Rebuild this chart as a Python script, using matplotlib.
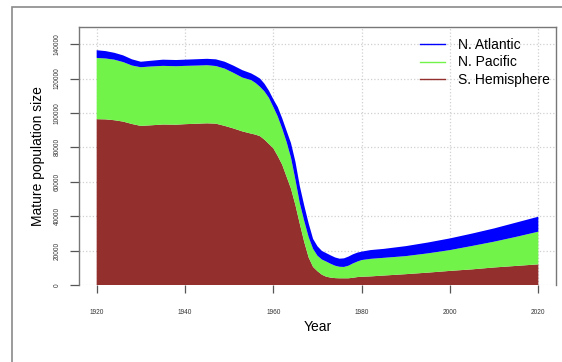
import matplotlib
matplotlib.use("Agg")
import matplotlib.pyplot as plt
from matplotlib.lines import Line2D
from matplotlib.patches import Rectangle

plt.rcParams["font.family"] = ["Liberation Sans", "DejaVu Sans"]

years = [1920, 1922, 1924, 1926, 1928, 1930, 1932, 1935, 1938, 1940, 1943, 1945,
         1947, 1949, 1951, 1953, 1955, 1956, 1957, 1958, 1959, 1960, 1961, 1962,
         1963, 1964, 1965, 1966, 1967, 1968, 1969, 1970, 1971, 1972, 1973, 1974,
         1975, 1976, 1977, 1978, 1979, 1980, 1982, 1985, 1990, 1995, 2000, 2005,
         2010, 2015, 2020]

s_hemisphere = [96400, 96300, 95800, 95000, 93600, 92500, 92800, 93300, 93200, 93500,
                93800, 94000, 93800, 92500, 91000, 89300, 88000, 87400, 86500, 84500,
                82000, 79500, 75000, 70000, 63000, 56000, 46500, 35500, 25000, 16000,
                10500, 8000, 6000, 4800, 4300, 4000, 3900, 3900, 3900, 4200,
                4600, 4800, 5000, 5500, 6300, 7200, 8200, 9100, 10200, 11100, 12000]

n_pacific = [35600, 35400, 35200, 34600, 34000, 34100, 34200, 34100, 34000, 33900,
             33800, 33800, 33500, 33300, 32300, 31300, 31100, 30000, 28700, 28000,
             26800, 24000, 23000, 21000, 20200, 18000, 14700, 12000, 12200, 11800,
             10500, 9000, 8800, 8800, 8000, 7200, 6700, 6600, 7300, 8300,
             9000, 9700, 10200, 10300, 10500, 11200, 12100, 13600, 15000, 16900, 19000]

n_atlantic = [4500, 4300, 4000, 3900, 3600, 3200, 3300, 3600, 3600, 3600,
              3700, 3700, 3900, 4000, 4200, 4300, 3900, 4200, 4800, 4500,
              4200, 4500, 5500, 6000, 6500, 8500, 10500, 10000, 9000, 8000,
              5800, 5500, 5000, 4900, 4900, 4800, 4700, 5000, 5300, 5300,
              5200, 4900, 5100, 5200, 5800, 6300, 6800, 7200, 7700, 8300, 8700]

series_names = ["N. Atlantic", "N. Pacific", "S. Hemisphere"]
col_sh = "#932f2c"
col_np = "#72f34a"
col_na = "#0000ff"

fig = plt.figure(figsize=(5.62, 3.62), dpi=100)
ax = fig.add_axes([79 / 562, 77 / 362, 477 / 562, 258 / 362])

ax.stackplot(years, s_hemisphere, n_pacific, n_atlantic,
             colors=[col_sh, col_np, col_na], linewidth=0)

ax.set_xlim(1916, 2024)
ax.set_ylim(0, 150000)
ax.set_xticks(range(1920, 2021, 20))
ax.set_yticks(range(0, 140001, 20000))
ax.grid(True, color="#d0d0d0", linestyle=":", linewidth=0.9)
ax.set_axisbelow(True)

for side in ["left", "top", "right"]:
    ax.spines[side].set_color("#777777")
    ax.spines[side].set_linewidth(1)
ax.spines["bottom"].set_visible(False)

ax.tick_params(axis="x", length=5.8, width=0.9, color="#555555", pad=11.5,
               labelsize=4.7, labelcolor="#333333")
ax.tick_params(axis="y", length=6.5, width=0.9, color="#555555", pad=6.5,
               labelsize=4.7, labelcolor="#333333")
plt.setp(ax.get_yticklabels(), rotation=90, va="center")

ax.set_xlabel("Year", fontsize=10, va="center")
ax.xaxis.set_label_coords(0.5, -42 / 258)
ax.set_ylabel("Mature population size", fontsize=10, va="center")
ax.yaxis.set_label_coords(-41 / 477, 0.5)

handles = [Line2D([], [], color=c, lw=1) for c in [col_na, col_np, col_sh]]
ax.legend(handles, series_names, loc="upper left", frameon=False, fontsize=10,
          bbox_to_anchor=(420 / 562, 1 - 38 / 362), bbox_transform=fig.transFigure,
          borderpad=0, borderaxespad=0, handlelength=1.8, handletextpad=0.9,
          labelspacing=0.25)

# outer frame, runs off the right and bottom edges
fig.patches.append(Rectangle((12 / 562, -0.1), 1.2, 355 / 362 + 0.1,
                             transform=fig.transFigure, fill=False,
                             edgecolor="#8a8a8a", linewidth=1.2))

fig.savefig("out.png", dpi=100)
